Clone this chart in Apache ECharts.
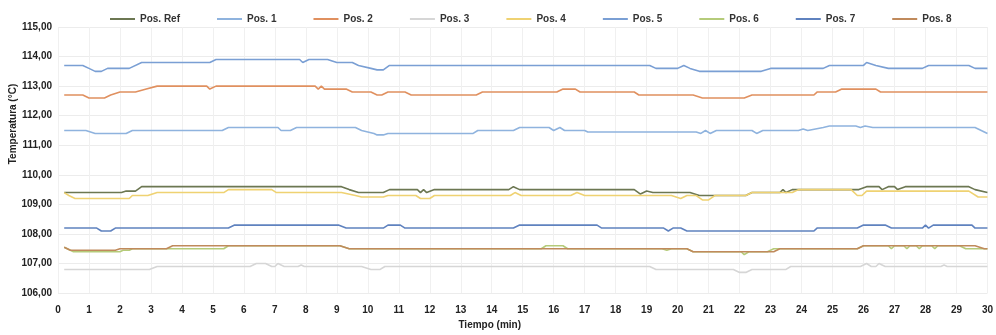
<!DOCTYPE html>
<html>
<head>
<meta charset="utf-8">
<script src="https://cdn.jsdelivr.net/npm/echarts@6/dist/echarts.min.js"></script>
<style>html,body{margin:0;padding:0;background:#fff}#c{width:996px;height:335px}</style>
</head>
<body>
<div id="c"></div>
<script>
const seriesNames = ['Pos. Ref','Pos. 1','Pos. 2','Pos. 3','Pos. 4','Pos. 5','Pos. 6','Pos. 7','Pos. 8'];
const yTicks = [106,107,108,109,110,111,112,113,114,115];
const xTicks = [0,30];

const posRef = [[0.2,109.4],[2.05,109.4],[2.2,109.45],[2.5,109.45],[2.7,109.6],[9.15,109.6],[9.4,109.5],[9.7,109.4],[10.5,109.4],[10.7,109.5],[11.6,109.5],[11.7,109.4],[11.8,109.5],[11.9,109.4],[12.15,109.5],[14.55,109.5],[14.7,109.6],[14.9,109.5],[18.6,109.5],[18.8,109.35],[19.0,109.45],[19.2,109.4],[20.4,109.4],[20.7,109.3],[22.2,109.3],[22.4,109.4],[23.3,109.4],[23.4,109.5],[23.5,109.4],[23.7,109.5],[25.85,109.5],[26.1,109.6],[26.5,109.6],[26.6,109.5],[26.8,109.6],[27.0,109.6],[27.1,109.5],[27.35,109.6],[29.4,109.6],[29.6,109.5],[30,109.4]];
const pos1 = [[0.2,111.5],[0.9,111.5],[1.2,111.4],[2.2,111.4],[2.4,111.5],[5.3,111.5],[5.5,111.6],[7.1,111.6],[7.2,111.5],[7.5,111.5],[7.7,111.6],[9.6,111.6],[9.8,111.5],[10.2,111.4],[10.3,111.35],[10.5,111.35],[10.65,111.4],[13.4,111.4],[13.55,111.5],[14.7,111.5],[14.9,111.6],[15.85,111.6],[16.0,111.5],[16.2,111.6],[16.35,111.5],[17.0,111.5],[17.1,111.45],[20.6,111.45],[20.75,111.4],[20.9,111.5],[21.05,111.4],[21.25,111.5],[22.4,111.5],[22.55,111.4],[22.75,111.5],[23.9,111.5],[24.05,111.55],[24.2,111.5],[24.7,111.6],[24.9,111.65],[25.75,111.65],[25.9,111.6],[26.05,111.65],[26.3,111.6],[29.6,111.6],[30,111.4]];
const pos2 = [[0.2,112.7],[0.8,112.7],[1.0,112.6],[1.5,112.6],[1.7,112.7],[2.0,112.8],[2.5,112.8],[2.85,112.9],[3.2,113.0],[4.8,113.0],[4.9,112.9],[5.1,113.0],[8.3,113.0],[8.4,112.9],[8.5,113.0],[8.6,112.9],[9.3,112.9],[9.5,112.8],[10.1,112.8],[10.3,112.7],[10.45,112.7],[10.65,112.8],[11.2,112.8],[11.4,112.7],[13.5,112.7],[13.7,112.8],[16.1,112.8],[16.3,112.9],[16.7,112.9],[16.85,112.8],[18.6,112.8],[18.75,112.7],[20.5,112.7],[20.8,112.6],[22.15,112.6],[22.4,112.7],[24.4,112.7],[24.5,112.8],[25.1,112.8],[25.3,112.9],[26.4,112.9],[26.55,112.8],[30,112.8]];
const pos3 = [[0.2,106.8],[2.95,106.8],[3.2,106.9],[6.2,106.9],[6.4,107.0],[6.7,107.0],[6.9,106.9],[7.0,106.9],[7.1,107.0],[7.3,106.9],[7.75,106.9],[7.85,106.95],[7.95,106.9],[9.8,106.9],[10.1,106.8],[10.4,106.8],[10.55,106.9],[19.1,106.9],[19.3,106.8],[21.8,106.8],[22.0,106.7],[22.2,106.7],[22.4,106.8],[23.5,106.8],[23.65,106.9],[25.9,106.9],[26.1,107.0],[26.25,106.9],[26.4,106.9],[26.5,107.0],[26.7,106.9],[28.5,106.9],[28.6,106.95],[28.7,106.9],[30,106.9]];
const pos4 = [[0.2,109.4],[0.35,109.3],[0.55,109.2],[2.3,109.2],[2.4,109.3],[2.9,109.3],[3.2,109.4],[5.35,109.4],[5.5,109.5],[6.9,109.5],[7.05,109.4],[9.15,109.4],[9.6,109.3],[9.8,109.25],[10.5,109.25],[10.65,109.3],[11.55,109.3],[11.7,109.2],[12.0,109.2],[12.15,109.3],[14.6,109.3],[14.75,109.4],[14.95,109.3],[16.55,109.3],[16.75,109.4],[17.0,109.3],[19.8,109.3],[20.1,109.2],[20.3,109.3],[20.6,109.3],[20.8,109.15],[21.0,109.15],[21.2,109.3],[22.2,109.3],[22.4,109.4],[23.7,109.4],[23.9,109.5],[25.6,109.5],[25.8,109.3],[25.95,109.3],[26.1,109.45],[29.4,109.45],[29.7,109.25],[30,109.25]];
const pos5 = [[0.2,113.7],[0.8,113.7],[1.0,113.6],[1.2,113.5],[1.4,113.5],[1.6,113.6],[2.3,113.6],[2.7,113.8],[4.9,113.8],[5.1,113.9],[7.8,113.9],[7.9,113.8],[8.1,113.9],[8.7,113.9],[9.0,113.8],[9.5,113.8],[9.7,113.7],[10.1,113.6],[10.3,113.55],[10.5,113.55],[10.7,113.7],[19.1,113.7],[19.3,113.6],[20.0,113.6],[20.2,113.7],[20.4,113.6],[20.7,113.5],[22.7,113.5],[23.0,113.6],[24.7,113.6],[24.9,113.7],[26.0,113.7],[26.1,113.8],[26.4,113.7],[26.8,113.6],[27.9,113.6],[28.1,113.7],[29.4,113.7],[29.6,113.6],[30,113.6]];
const pos6 = [[0.2,107.55],[0.5,107.4],[2.0,107.4],[2.1,107.45],[2.3,107.45],[2.4,107.5],[5.35,107.5],[5.5,107.6],[9.1,107.6],[9.4,107.5],[15.6,107.5],[15.75,107.6],[16.3,107.6],[16.45,107.5],[19.5,107.5],[19.65,107.45],[19.8,107.5],[20.3,107.5],[20.5,107.4],[22.05,107.4],[22.15,107.3],[22.3,107.4],[22.9,107.4],[23.1,107.5],[25.8,107.5],[26.0,107.6],[26.8,107.6],[26.9,107.5],[27.0,107.6],[27.3,107.6],[27.4,107.5],[27.5,107.6],[27.7,107.6],[27.8,107.5],[27.9,107.6],[28.2,107.6],[28.3,107.5],[28.4,107.6],[29.1,107.6],[29.3,107.5],[30,107.5]];
const pos7 = [[0.2,108.2],[1.25,108.2],[1.4,108.1],[1.7,108.1],[1.85,108.2],[5.5,108.2],[5.7,108.3],[9.05,108.3],[9.3,108.2],[10.5,108.2],[10.65,108.3],[11.05,108.3],[11.2,108.2],[14.7,108.2],[14.9,108.3],[17.4,108.3],[17.55,108.2],[19.55,108.2],[19.7,108.1],[19.85,108.2],[20.1,108.2],[20.3,108.1],[24.4,108.1],[24.5,108.2],[25.8,108.2],[26.0,108.3],[26.7,108.3],[26.9,108.2],[27.9,108.2],[28.0,108.3],[28.1,108.2],[28.25,108.3],[29.5,108.3],[29.6,108.2],[30,108.2]];
const pos8 = [[0.2,107.55],[0.4,107.45],[1.85,107.45],[2.0,107.5],[3.5,107.5],[3.7,107.6],[9.1,107.6],[9.4,107.5],[20.3,107.5],[20.5,107.4],[23.1,107.4],[23.3,107.5],[25.8,107.5],[26.0,107.6],[29.6,107.6],[29.9,107.5],[30,107.5]];

const seriesData = [posRef,pos1,pos2,pos3,pos4,pos5,pos6,pos7,pos8];
const colors = ['#6c7752','#8fb3de','#e0905f','#d6d6d6','#efd272','#7a9fd4','#b5cb7a','#5f82bf','#c08a5c'];

const chart = echarts.init(document.getElementById('c'), null, {renderer:'canvas'});
const fmt = v => v.toFixed(2).replace('.', ',');
chart.setOption({
  animation: false,
  color: colors,
  textStyle: {fontFamily: 'Liberation Sans, Arial, sans-serif'},
  legend: {
    data: seriesNames.map(n => ({name: n, icon: 'rect'})),
    left: 105, top: 9,
    itemWidth: 25, itemHeight: 2, itemGap: 37,
    textStyle: {fontSize: 10, fontWeight: 'bold', color: '#333', fontFamily: 'Liberation Sans, Arial, sans-serif'}
  },
  grid: {left: 58, right: 3, top: 27, bottom: 38, containLabel: false},
  xAxis: {
    type: 'value', min: xTicks[0], max: xTicks[1], interval: 1,
    name: 'Tiempo (min)', nameLocation: 'middle', nameGap: 26,
    nameTextStyle: {fontSize: 10, fontWeight: 'bold', color: '#222', padding: [0, 66, 0, 0]},
    axisLine: {show: false}, axisTick: {show: false},
    axisLabel: {fontSize: 10, fontWeight: 'bold', color: '#222', margin: 12},
    splitLine: {show: true, lineStyle: {color: '#f0f0f0', width: 1}}
  },
  yAxis: {
    type: 'value', min: yTicks[0], max: yTicks[yTicks.length-1], interval: 1,
    axisLine: {show: false}, axisTick: {show: false},
    axisLabel: {fontSize: 10, fontWeight: 'bold', color: '#222', margin: 6, formatter: fmt},
    splitLine: {show: true, lineStyle: {color: '#ececec', width: 1}}
  },
  graphic: [{
    type: 'text', x: 13, y: 124, rotation: Math.PI/2,
    style: {text: 'Temperatura (°C)', fontSize: 10, fontWeight: 'bold', fill: '#222',
      align: 'center', verticalAlign: 'middle', fontFamily: 'Liberation Sans, Arial, sans-serif'}
  }],
  series: seriesNames.map((n, i) => ({
    name: n, type: 'line', data: seriesData[i],
    symbol: 'none', showSymbol: false,
    lineStyle: {width: 1.6, color: colors[i]},
    itemStyle: {color: colors[i]}
  }))
});
</script>
</body>
</html>
